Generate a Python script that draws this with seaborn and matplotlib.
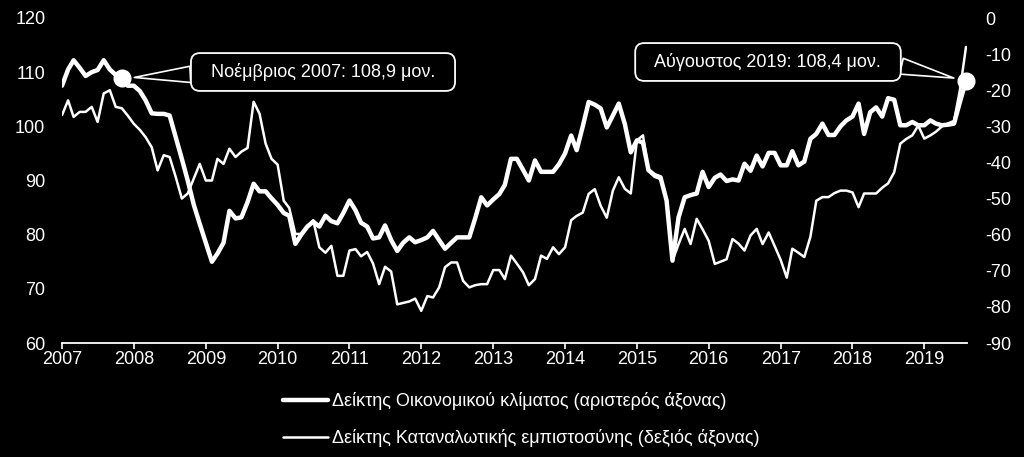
import numpy as np
import pandas as pd
import matplotlib
matplotlib.use("Agg")
import matplotlib.pyplot as plt
import seaborn as sns

# ---------------- data (monthly, Jan 2007 - Aug 2019) ----------------
esi = [
    107.5, 110.5, 112.2, 110.8, 109.3, 110.0, 110.4, 112.2, 110.5, 109.5, 108.9, 107.5,  # 2007
    107.5, 106.5, 104.8, 102.4, 102.3, 102.3, 102.0, 98.0, 94.0, 90.0, 85.5, 82.0,       # 2008
    78.5, 75.0, 76.5, 78.5, 84.4, 83.0, 83.2, 86.0, 89.4, 88.0, 88.0, 86.7,              # 2009
    85.5, 84.0, 83.5, 78.3, 80.0, 81.5, 82.4, 81.5, 83.5, 82.5, 82.1, 84.0,              # 2010
    86.3, 84.5, 82.2, 81.5, 79.3, 79.5, 81.7, 79.0, 77.0, 78.5, 79.5, 78.6,              # 2011
    79.0, 79.5, 80.7, 79.0, 77.4, 78.5, 79.5, 79.5, 79.5, 83.0, 86.9, 85.4,              # 2012
    86.5, 87.5, 89.2, 94.0, 94.0, 92.0, 90.0, 93.7, 91.6, 91.6, 91.6, 93.0,              # 2013
    95.0, 98.3, 95.6, 100.0, 104.5, 104.0, 103.3, 99.8, 102.0, 104.2, 100.4, 95.2,       # 2014
    97.4, 97.0, 91.9, 91.0, 90.6, 86.3, 75.2, 83.2, 86.9, 87.3, 87.6, 91.6,              # 2015
    88.8, 90.5, 91.1, 89.9, 90.2, 90.0, 93.1, 91.8, 94.6, 92.6, 95.1, 95.1,              # 2016
    92.8, 92.8, 95.4, 92.8, 93.5, 97.7, 98.6, 100.5, 98.4, 98.4, 100.0, 101.1,           # 2017
    101.8, 104.2, 98.6, 102.6, 103.5, 101.8, 105.2, 104.9, 100.2, 100.2, 100.8, 100.2,   # 2018
    100.2, 101.1, 100.5, 100.2, 100.3, 100.5, 104.5, 108.4,                              # 2019
]
cc = [
    -26.9, -22.8, -27.4, -26.0, -26.0, -24.6, -28.8, -20.9, -20.0, -24.6, -25.0, -27.0,  # 2007
    -29.3, -31.0, -33.0, -35.8, -42.2, -38.0, -38.5, -44.0, -50.0, -48.6, -44.4, -40.4,  # 2008
    -45.0, -45.0, -39.0, -40.4, -36.2, -38.5, -37.0, -36.0, -23.2, -26.5, -34.8, -39.0,  # 2009
    -40.6, -50.6, -52.6, -59.8, -59.8, -57.9, -56.0, -63.5, -65.0, -63.1, -71.4, -71.4,  # 2010
    -64.4, -64.0, -66.0, -64.8, -68.0, -73.7, -68.9, -70.2, -79.3, -78.9, -78.5, -77.7,  # 2011
    -81.1, -77.0, -77.4, -74.6, -69.0, -67.7, -67.7, -72.8, -74.6, -74.0, -73.7, -73.7,  # 2012
    -69.8, -69.8, -72.3, -65.8, -68.0, -70.4, -74.0, -72.3, -65.8, -66.7, -63.5, -65.4,  # 2013
    -63.5, -56.0, -54.8, -53.9, -48.7, -47.4, -52.0, -55.3, -47.8, -44.1, -47.3, -48.6,  # 2014
    -33.9, -32.5, -42.2, -44.0, -44.6, -50.6, -67.2, -62.6, -58.4, -62.6, -55.6, -58.5,  # 2015
    -61.7, -68.1, -67.5, -66.8, -61.2, -62.5, -64.4, -60.2, -58.4, -62.6, -59.4, -63.1,  # 2016
    -67.0, -71.9, -63.9, -65.0, -66.2, -60.6, -50.6, -49.6, -49.6, -48.5, -47.8, -47.8,  # 2017
    -48.3, -52.4, -48.6, -48.6, -48.6, -47.0, -45.8, -42.7, -34.8, -33.5, -32.5, -29.8,  # 2018
    -33.4, -32.5, -31.5, -30.0, -29.2, -28.5, -20.0, -8.0,                               # 2019
]
years = list(range(2007, 2020))
left_ticks = [60, 70, 80, 90, 100, 110, 120]
right_ticks = [-90, -80, -70, -60, -50, -40, -30, -20, -10, 0]
label_esi = "Δείκτης Οικονομικού κλίματος (αριστερός άξονας)"
label_cc = "Δείκτης Καταναλωτικής εμπιστοσύνης (δεξιός άξονας)"
ann1_text = "  Νοέμβριος 2007: 108,9 μον.  "
ann2_text = "  Αύγουστος 2019: 108,4 μον.  "
ann1_idx = 10    # Nov 2007
ann2_idx = len(esi) - 1  # Aug 2019

dates = pd.date_range("2007-01-01", periods=len(esi), freq="MS")
df = pd.DataFrame({"date": dates, "esi": esi, "cc": cc})

# ---------------- style ----------------
sns.set_theme(style="white")
plt.rcParams["font.family"] = ["Liberation Sans", "DejaVu Sans"]
plt.rcParams["figure.facecolor"] = "black"
plt.rcParams["axes.facecolor"] = "black"

FS = 13
fig = plt.figure(figsize=(10.24, 4.57), dpi=100, facecolor="black")
ax = fig.add_axes([62 / 1024, 1 - 343 / 457, (967 - 62) / 1024, (343 - 18) / 457])
ax.set_facecolor("black")
ax2 = ax.twinx()
ax2.patch.set_visible(False)

sns.lineplot(data=df, x="date", y="esi", ax=ax, color="white", linewidth=3.2, label=label_esi)
sns.lineplot(data=df, x="date", y="cc", ax=ax2, color="white", linewidth=1.8, label=label_cc)

for a in (ax, ax2):
    if a.get_legend() is not None:
        a.get_legend().remove()
    a.grid(False)
    for s in a.spines.values():
        s.set_visible(False)
    a.set_xlabel("")
    a.set_ylabel("")

ax.spines["bottom"].set_visible(True)
ax.spines["bottom"].set_color("white")
ax.spines["bottom"].set_linewidth(1.3)

ax.set_xlim(pd.Timestamp("2007-01-01"), pd.Timestamp("2019-08-06"))
ax.set_ylim(left_ticks[0], left_ticks[-1])
ax2.set_ylim(right_ticks[0], right_ticks[-1])

ax.set_xticks([pd.Timestamp(f"{y}-01-01") for y in years])
ax.set_xticklabels([str(y) for y in years])
ax.tick_params(axis="x", colors="white", labelcolor="white", length=4, width=1.2,
               direction="out", pad=2, labelsize=FS, bottom=True)
ax.set_yticks(left_ticks)
ax.set_yticklabels([str(v) for v in left_ticks])
ax.tick_params(axis="y", length=0, pad=12, labelcolor="white", labelsize=FS)
ax2.set_yticks(right_ticks)
ax2.set_yticklabels([str(v) for v in right_ticks])
ax2.tick_params(axis="y", length=0, pad=13, labelcolor="white", labelsize=FS)

# marker dots
ax.plot([dates[ann1_idx]], [esi[ann1_idx]], "o", color="white", markersize=12, zorder=5, clip_on=False)
ax.plot([dates[ann2_idx]], [esi[ann2_idx]], "o", color="white", markersize=12, zorder=5, clip_on=False)

bbox = dict(boxstyle="round,pad=0.55,rounding_size=0.5", fc="black", ec="white", lw=1.3)
ax.annotate(ann1_text, xy=(dates[ann1_idx], esi[ann1_idx]), xytext=(323, 457 - 72),
            textcoords="figure pixels", ha="center", va="center", color="white", fontsize=FS,
            bbox=bbox, zorder=6,
            arrowprops=dict(arrowstyle="wedge,tail_width=0.9,shrink_factor=0.5", fc="black",
                            ec="white", lw=1.2, relpos=(0.0, 0.4), shrinkA=0, shrinkB=9))
ax.annotate(ann2_text, xy=(dates[ann2_idx], esi[ann2_idx]), xytext=(768, 457 - 62),
            textcoords="figure pixels", ha="center", va="center", color="white", fontsize=FS,
            bbox=bbox, zorder=6,
            arrowprops=dict(arrowstyle="wedge,tail_width=0.9,shrink_factor=0.5", fc="black",
                            ec="white", lw=1.2, relpos=(1.0, 0.4), shrinkA=0, shrinkB=9))

h1 = ax.get_lines()[0]
h2 = ax2.get_lines()[0]
leg = fig.legend([h1, h2], [label_esi, label_cc], loc="upper left",
                 bbox_to_anchor=(283 / 1024, 1 - 392 / 457), frameon=False, fontsize=FS,
                 labelcolor="white", handlelength=2.5, handletextpad=0.2, labelspacing=1.05,
                 borderpad=0, borderaxespad=0)

fig.savefig("out.png", dpi=100, facecolor="black")
